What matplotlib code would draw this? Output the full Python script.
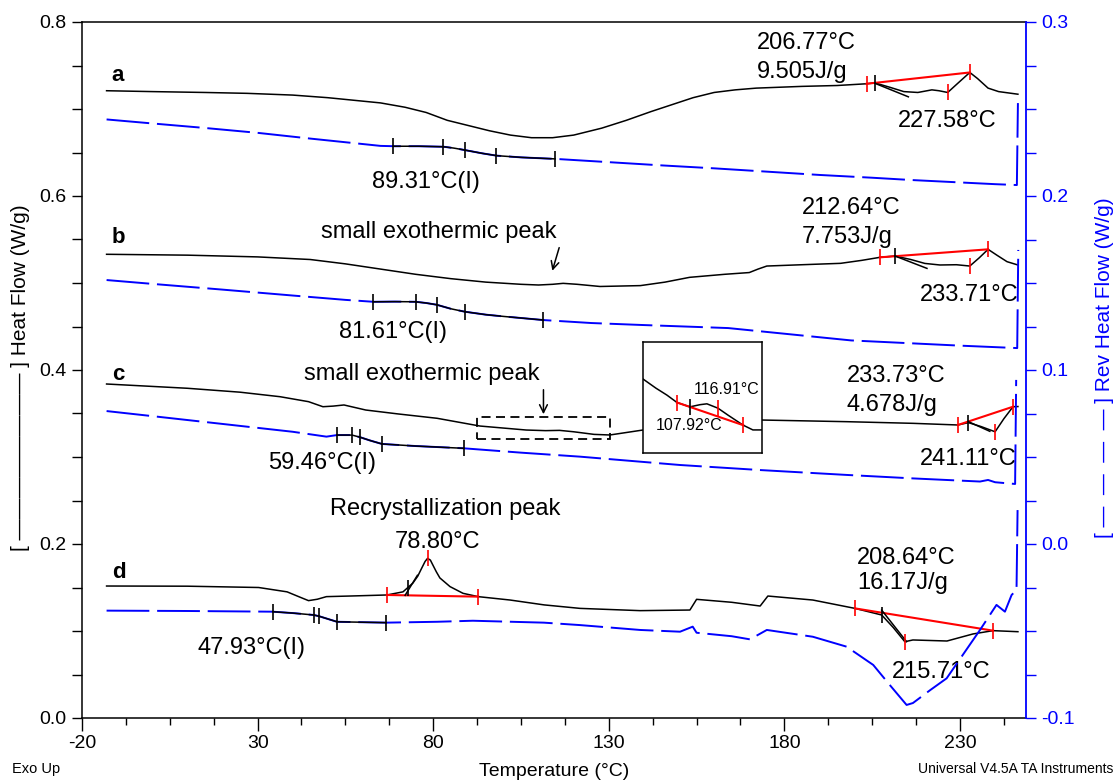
import numpy as np
import matplotlib
matplotlib.use('Agg')
import matplotlib.pyplot as plt
from matplotlib.ticker import FixedLocator, FormatStrFormatter
from matplotlib.patches import Rectangle

plt.rcParams['font.family'] = ['Liberation Sans', 'DejaVu Sans']
plt.rcParams['axes.unicode_minus'] = False

# ---- Heat Flow (W/g), left axis ----
a_x = [-13, 0, 15, 27, 40, 50, 60, 65, 72, 78, 84, 90, 96, 102, 108, 114, 120, 128, 135, 142,
       148, 154, 160, 166, 172, 185, 195, 203.4, 205.8, 210, 214, 218, 222, 224, 226.5, 229.5,
       232.8, 235, 238, 241, 246.5]
a_y = [0.721, 0.720, 0.719, 0.718, 0.716, 0.713, 0.709, 0.707, 0.702, 0.696, 0.687, 0.681,
       0.675, 0.670, 0.667, 0.667, 0.670, 0.678, 0.687, 0.697, 0.705, 0.713, 0.719, 0.722,
       0.724, 0.726, 0.727, 0.729, 0.730, 0.725, 0.720, 0.719, 0.722, 0.721, 0.719, 0.730,
       0.742, 0.735, 0.724, 0.720, 0.717]

b_x = [-13, 10, 30, 45, 55, 65, 75, 85, 95, 105, 110, 114, 117, 121, 127.5, 139, 146, 153, 163,
       170, 172.5, 175, 185, 196, 202, 207.2, 211.5, 216, 220, 224.3, 229, 232.8, 235.5, 238,
       240.5, 243.4, 246.5]
b_y = [0.533, 0.532, 0.530, 0.527, 0.522, 0.516, 0.510, 0.505, 0.501, 0.4985, 0.4977, 0.4985,
       0.4996, 0.4985, 0.496, 0.497, 0.501, 0.5065, 0.510, 0.512, 0.516, 0.5195, 0.521, 0.5226,
       0.526, 0.5295, 0.531, 0.527, 0.5225, 0.5207, 0.521, 0.5195, 0.529, 0.5387, 0.532,
       0.5245, 0.5207]

c_x = [-13, 10, 25, 36.4, 44.5, 48.6, 51.5, 54.6, 60.8, 70, 81.1, 93.3, 106.5, 112, 116, 120,
       125.8, 130.3, 139.7, 150, 162, 173.6, 197.7, 216.6, 229.4, 232.4, 236, 240, 242.5,
       245.1, 246.5]
c_y = [0.3839, 0.3790, 0.3745, 0.3693, 0.3636, 0.3578, 0.3585, 0.3598, 0.3540, 0.3495, 0.3445,
       0.3356, 0.3310, 0.3303, 0.3306, 0.3290, 0.3260, 0.3253, 0.3310, 0.3370, 0.3405, 0.3425,
       0.3406, 0.3387, 0.3368, 0.3395, 0.3350, 0.3290, 0.3440, 0.3578, 0.3580]

d_x = [-13, 10, 30.3, 38.4, 42, 44.5, 47, 49.6, 56.3, 66.8, 71.4, 74.2, 75.6, 76.7, 77.7, 78.4,
       79.2, 79.9, 80.9, 81.9, 84.8, 88.5, 92.8, 101.9, 111.6, 121.8, 138.9, 153.1, 155, 165,
       173.1, 175.3, 188.1, 200.1, 207.7, 211, 214.3, 216.6, 226.3, 233.7, 239.4, 246.5]
d_y = [0.1517, 0.1515, 0.1500, 0.1450, 0.1390, 0.1349, 0.1365, 0.1395, 0.1402, 0.1414, 0.1450,
       0.1550, 0.1630, 0.1720, 0.1800, 0.1835, 0.1815, 0.1759, 0.1680, 0.1610, 0.1510, 0.1433,
       0.1395, 0.1356, 0.1300, 0.1260, 0.1234, 0.1241, 0.1364, 0.1330, 0.1287, 0.1402, 0.1356,
       0.1260, 0.1184, 0.1040, 0.0877, 0.0897, 0.0885, 0.0966, 0.1004, 0.0992]

# ---- Rev Heat Flow (W/g), right axis ----
ra_x = [-13, 0, 15, 30, 45, 55, 65, 69, 76, 83, 86, 89, 94, 98, 105, 115, 128, 145, 160, 175,
        190, 205, 216, 230, 240, 246.2, 246.5]
ra_y = [0.2440, 0.2417, 0.2391, 0.2363, 0.2330, 0.2309, 0.2288, 0.2286, 0.2286, 0.2283, 0.2275,
        0.2264, 0.2245, 0.2232, 0.2222, 0.2213, 0.2197, 0.2176, 0.2159, 0.2140, 0.2121, 0.2105,
        0.2092, 0.2078, 0.2068, 0.2063, 0.2534]

rb_x = [-13, 0, 20, 40, 55, 63, 69, 75, 78, 81, 85, 89, 95, 100, 111.4, 125, 139, 164, 199, 230,
        246.3, 246.6]
rb_y = [0.1517, 0.1495, 0.1462, 0.1428, 0.1403, 0.1392, 0.1393, 0.1392, 0.1385, 0.1375, 0.1352,
        0.1335, 0.1318, 0.1308, 0.1287, 0.1270, 0.1259, 0.1241, 0.1170, 0.1140, 0.1126, 0.1690]

rc_x = [-13, 0, 20, 40, 49.6, 52.6, 56.9, 59.3, 62, 65.4, 75, 88.7, 105, 121.8, 150.3, 173.1,
        197.7, 216.6, 235.7, 238, 240, 245.7, 246]
rc_y = [0.0764, 0.0735, 0.0690, 0.0645, 0.0617, 0.0626, 0.0626, 0.0613, 0.0595, 0.0575, 0.0563,
        0.0550, 0.0525, 0.0502, 0.0454, 0.0425, 0.0397, 0.0377, 0.0359, 0.0368, 0.0355, 0.0345,
        0.0943]

rd_x = [-13, 10, 34.3, 40, 46, 47.5, 52.6, 66.6, 81.1, 91.3, 111.5, 121.8, 138.9, 150.3, 153.9,
        155, 165, 170.2, 175, 188.1, 197.7, 205.3, 210, 214.8, 216.6, 221.5, 226.2, 235.7,
        240.4, 242.8, 244.7, 246.1, 246.4]
rd_y = [-0.0383, -0.0385, -0.0389, -0.0397, -0.0408, -0.0415, -0.0447, -0.0452, -0.0447,
        -0.0441, -0.0452, -0.0466, -0.0494, -0.0504, -0.0475, -0.0510, -0.0530, -0.0548,
        -0.0494, -0.0533, -0.0590, -0.0695, -0.0810, -0.0925, -0.0914, -0.0840, -0.0772,
        -0.0494, -0.0350, -0.0389, -0.0293, -0.0264, 0.0195]

# glass transition analysis points on the rev heat flow curves
ga_t = [68.6, 82.8, 89.1, 97.9, 114.7]
gb_t = [63.0, 75.0, 81.1, 89.0, 111.4]
gc_t = [52.6, 56.9, 59.3, 65.4, 88.7]
gd_t = [34.3, 46.0, 47.5, 52.6, 66.6]

# peak integration limits (start, peak, end) and onset
a_red, a_on = [203.4, 226.5, 232.8], 205.8
b_red, b_on = [207.2, 232.8, 238.0], 211.5
c_red, c_on = [229.4, 240.0, 245.1], 232.4
d_red, d_on = [200.1, 214.3, 239.4], 207.7
rx_red, rx_on = [66.8, 78.4, 92.8], 72.8

a_tan = ([205.8, 215.3], [0.7295, 0.714])
b_tan = ([211.5, 220.6], [0.531, 0.5168])
c_tan = ([232.4, 238.5], [0.3406, 0.3295])
d_tan = ([207.7, 214.8], [0.124, 0.0877])
rx_tan = ([72.0, 75.5], [0.141, 0.164])

# magnified region of curve c
box_x = (92.5, 130.3)
box_y = (0.3205, 0.346)
in_x = [92.5, 96.6, 100.1, 103.3, 107.4, 110.6, 112.8, 116.3, 119.5, 124.3, 127.4, 130.3]
in_y = [0.3375, 0.3354, 0.3338, 0.3321, 0.3311, 0.3316, 0.3318, 0.3308, 0.3292, 0.3269,
        0.3258, 0.3258]
in_red, in_on = [103.3, 116.3, 124.3], 107.4

W, H = 1115, 782
fig = plt.figure(figsize=(W / 100, H / 100), dpi=100)
ax = fig.add_axes([82 / W, 1 - 718 / H, (1026 - 82) / W, (718 - 22) / H])
ax2 = ax.twinx()

blue = '#0000ff'
red = '#ff0000'
TS = 17


def marks(axis, xs, cx, cy, color, ms=12):
    ys = np.interp(xs, cx, cy)
    axis.plot(xs, ys, ls='none', marker='|', ms=ms, mew=1.2, color=color, zorder=5)


def peak(axis, cx, cy, red_x, onset, tan):
    ry = np.interp([red_x[0], red_x[2]], cx, cy)
    axis.plot([red_x[0], red_x[2]], ry, color=red, lw=1.5, zorder=4)
    if tan is not None:
        axis.plot(tan[0], tan[1], color='black', lw=1.1, zorder=4)
    marks(axis, red_x, cx, cy, red)
    marks(axis, [onset], cx, cy, 'black')


for cx, cy in [(a_x, a_y), (b_x, b_y), (c_x, c_y), (d_x, d_y)]:
    ax.plot(cx, cy, color='black', lw=1.1)

for cx, cy, gt in [(ra_x, ra_y, ga_t), (rb_x, rb_y, gb_t), (rc_x, rc_y, gc_t), (rd_x, rd_y, gd_t)]:
    ax2.plot(cx, cy, color=blue, lw=1.4, ls=(0, (22, 4)))
    seg = np.linspace(gt[0], gt[-1], 60)
    ax2.plot(seg, np.interp(seg, cx, cy), color='black', lw=1.1, zorder=4)
    marks(ax2, gt, cx, cy, 'black')

peak(ax, a_x, a_y, a_red, a_on, a_tan)
peak(ax, b_x, b_y, b_red, b_on, b_tan)
peak(ax, c_x, c_y, c_red, c_on, c_tan)
peak(ax, d_x, d_y, d_red, d_on, d_tan)
peak(ax, d_x, d_y, rx_red, rx_on, rx_tan)

ax.add_patch(Rectangle((box_x[0], box_y[0]), box_x[1] - box_x[0], box_y[1] - box_y[0],
                       fill=False, ls=(0, (5, 3)), lw=1.3, color='black'))

# curve labels
for lab, ly in [('a', 0.739), ('b', 0.552), ('c', 0.395), ('d', 0.167)]:
    ax.text(-11.5, ly, lab, fontsize=16, fontweight='bold', va='center', ha='left')

ann = [
    (172.2, 0.776, '206.77°C'), (172.2, 0.7425, '9.505J/g'), (212.3, 0.686, '227.58°C'),
    (185.0, 0.586, '212.64°C'), (185.0, 0.553, '7.753J/g'), (218.6, 0.486, '233.71°C'),
    (197.8, 0.393, '233.73°C'), (197.8, 0.360, '4.678J/g'), (218.6, 0.2977, '241.11°C'),
    (200.7, 0.184, '208.64°C'), (200.7, 0.155, '16.17J/g'), (210.6, 0.0529, '215.71°C'),
]
for tx, ty, s in ann:
    ax.text(tx, ty, s, fontsize=TS, ha='left', va='center')

cen = [
    (77.95, 0.616, '89.31°C(I)'), (68.55, 0.4437, '81.61°C(I)'), (48.3, 0.293, '59.46°C(I)'),
    (28.3, 0.0799, '47.93°C(I)'), (83.4, 0.240, 'Recrystallization peak'),
    (81.1, 0.2023, '78.80°C'), (81.65, 0.5586, 'small exothermic peak'),
    (76.7, 0.3954, 'small exothermic peak'),
]
for tx, ty, s in cen:
    ax.text(tx, ty, s, fontsize=TS, ha='center', va='center')

ax.annotate('', xy=(113.7, 0.511), xytext=(116.1, 0.5437),
            arrowprops=dict(arrowstyle='->', lw=1.1, color='black', mutation_scale=14))
ax.annotate('', xy=(111.4, 0.346), xytext=(111.4, 0.3805),
            arrowprops=dict(arrowstyle='->', lw=1.1, color='black', mutation_scale=14))

# axes styling
ax.set_xlim(-20, 248.8)
ax.set_ylim(0, 0.8)
ax2.set_ylim(-0.1, 0.3)
ax.xaxis.set_major_locator(FixedLocator(np.arange(-20, 249, 50)))
ax.xaxis.set_minor_locator(FixedLocator(np.arange(-20, 249, 12.5)))
ax.yaxis.set_major_locator(FixedLocator(np.arange(0, 0.81, 0.2)))
ax.yaxis.set_minor_locator(FixedLocator(np.arange(0, 0.81, 0.05)))
ax2.yaxis.set_major_locator(FixedLocator(np.arange(-0.1, 0.31, 0.1)))
ax2.yaxis.set_minor_locator(FixedLocator(np.arange(-0.1, 0.31, 0.025)))
ax.xaxis.set_major_formatter(FormatStrFormatter('%d'))
ax.yaxis.set_major_formatter(FormatStrFormatter('%.1f'))
ax2.yaxis.set_major_formatter(FormatStrFormatter('%.1f'))

ax.spines['right'].set_visible(False)
for s in ['left', 'top', 'bottom']:
    ax2.spines[s].set_visible(False)
ax2.spines['right'].set_color(blue)
ax2.spines['right'].set_linewidth(1.3)
for s in ['left', 'top', 'bottom']:
    ax.spines[s].set_linewidth(1.1)

ax.tick_params(axis='x', which='major', direction='out', length=9, width=1, labelsize=14, pad=3)
ax.tick_params(axis='x', which='minor', direction='out', length=5, width=1)
ax.tick_params(axis='y', which='both', direction='out', length=7, width=1, labelsize=14, pad=4)
ax.tick_params(top=False, right=False, which='both')
ax2.tick_params(axis='y', which='both', direction='out', length=7, width=1, labelsize=14, pad=4,
                colors=blue)

ax.set_xlabel('Temperature (°C)', fontsize=14)
ax.xaxis.set_label_coords(0.5, -(772 - 718) / 696)
ax.xaxis.label.set_va('center')
ax.set_ylabel('[ ———————— ] Heat Flow (W/g)', fontsize=15)
ax.yaxis.set_label_coords((21 - 82) / 944, (718 - 378) / 696)
ax.yaxis.label.set_va('center')
ax2.set_ylabel('[ —  —  —  — ] Rev Heat Flow (W/g)', fontsize=15, color=blue)
ax2.yaxis.set_label_coords((1104 - 82) / 944, (718 - 368) / 696)
ax2.yaxis.label.set_va('center')

fig.text(12 / W, 1 - 769 / H, 'Exo Up', fontsize=10.5, va='center')
fig.text(918 / W, 1 - 769 / H, 'Universal V4.5A TA Instruments', fontsize=10, va='center')

# inset: magnified view of the dashed box
axi = fig.add_axes([643 / W, 1 - 453 / H, 119 / W, 111 / H])
axi.plot(in_x, in_y, color='black', lw=1.1)
peak(axi, in_x, in_y, in_red, in_on, None)
axi.set_xlim(*box_x)
axi.set_ylim(*box_y)
axi.set_xticks([])
axi.set_yticks([])
for s in axi.spines.values():
    s.set_linewidth(1.1)
axi.text(119.2, 0.3352, '116.91°C', fontsize=11.5, ha='center', va='center')
axi.text(107.1, 0.3269, '107.92°C', fontsize=11.5, ha='center', va='center')

fig.savefig('out.png', dpi=100)
